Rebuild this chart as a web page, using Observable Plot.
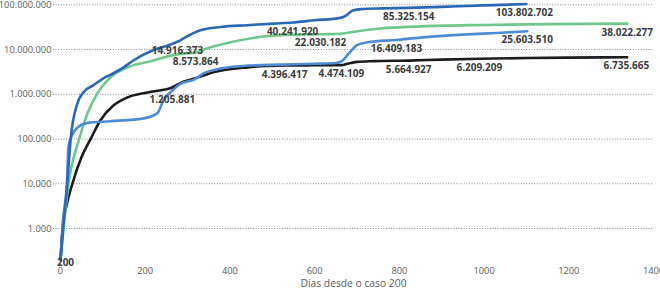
<!DOCTYPE html>
<html><head><meta charset="utf-8">
<script src="https://cdn.jsdelivr.net/npm/d3@7"></script>
<script src="https://cdn.jsdelivr.net/npm/@observablehq/plot@0.6"></script>
<style>
html,body{margin:0;padding:0;background:#fff;}
#chart{width:660px;height:290px;overflow:hidden;}
</style></head><body><div id="chart"></div>
<script>
const xTitle = "Dias desde o caso 200";
const yTicks = [1000, 10000, 100000, 1000000, 10000000, 100000000];
const xTicks = [0, 200, 400, 600, 800, 1000, 1200, 1400];

const seriesNames = ["preto", "verde", "azul claro", "azul escuro"];
const seriesColors = ["#1c1c1c", "#6fc78b", "#4d8cd2", "#2a68b4"];

const darkBlueDays  = [0, 8, 16, 24, 40, 54, 78, 102, 125, 149, 172, 220, 255, 276, 300, 330, 378, 441, 503, 548, 600, 661, 675, 690, 710, 760, 822, 900, 1000, 1100];
const darkBlueCases = [200, 1500, 10000, 100000, 630000, 1100000, 1600000, 2300000, 2950000, 4000000, 5700000, 9800000, 12500000, 14916373, 20000000, 27000000, 32000000, 35000000, 38000000, 40241920, 45000000, 51000000, 58000000, 75000000, 80000000, 83000000, 85325154, 90000000, 97000000, 103802702];

const greenDays  = [0, 8, 19, 44, 64, 87, 118, 158, 220, 264, 290, 319, 345, 401, 479, 543, 614, 661, 700, 755, 850, 1000, 1150, 1338];
const greenCases = [200, 1200, 10000, 100000, 380000, 1050000, 2400000, 4000000, 5700000, 7400000, 8100000, 8573864, 10500000, 14500000, 19500000, 21500000, 22030182, 22600000, 25500000, 29500000, 33000000, 35500000, 37000000, 38022277];

const lightBlueDays  = [0, 6, 15, 19, 27, 40, 64, 118, 196, 229, 243, 264, 283, 314, 340, 380, 430, 520, 600, 650, 665, 680, 700, 725, 793, 850, 950, 1030, 1102];
const lightBlueCases = [200, 1500, 10000, 70000, 120000, 180000, 230000, 250000, 290000, 380000, 730000, 1205881, 1700000, 2100000, 3000000, 3800000, 4300000, 4600000, 4800000, 5000000, 5600000, 8000000, 12500000, 14500000, 16409183, 18500000, 21500000, 23500000, 25603510];

const blackDays  = [0, 5, 15, 28, 50, 71, 94, 125, 158, 205, 262, 290, 320, 361, 441, 529, 600, 663, 680, 700, 740, 822, 900, 989, 1100, 1200, 1338];
const blackCases = [200, 1000, 3500, 10000, 40000, 100000, 260000, 560000, 850000, 1100000, 1400000, 1900000, 2300000, 3100000, 4000000, 4396417, 4440000, 4474109, 4900000, 5300000, 5500000, 5664927, 5950000, 6209209, 6450000, 6600000, 6735665];

const labelSeries = ["azul escuro","azul escuro","azul escuro","azul escuro","verde","verde","verde","azul claro","azul claro","azul claro","preto","preto","preto","preto","preto"];
const labelDays   = [276, 548, 822, 1095, 319, 614, 1338, 264, 793, 1102, 529, 663, 822, 989, 1336];
const labelCases  = [14916373, 40241920, 85325154, 103802702, 8573864, 22030182, 38022277, 1205881, 16409183, 25603510, 4396417, 4474109, 5664927, 6209209, 6735665];

const originDay = [0];
const originCases = [200];

const fmt = d3.formatLocale({decimal: ",", thousands: ".", grouping: [3], currency: ["", ""]}).format(",d");

function rows(name, days, cases) { return days.map((d, i) => ({serie: name, dia: d, casos: cases[i]})); }
const lines = [
  ...rows("preto", blackDays, blackCases),
  ...rows("verde", greenDays, greenCases),
  ...rows("azul claro", lightBlueDays, lightBlueCases),
  ...rows("azul escuro", darkBlueDays, darkBlueCases)
];
const labels = labelDays.map((d, i) => ({serie: labelSeries[i], dia: d, casos: labelCases[i]}));
const origin = originDay.map((d, i) => ({dia: d, casos: originCases[i]}));

const chart = Plot.plot({
  width: 660, height: 290,
  marginLeft: 53, marginRight: 7, marginTop: 4.3, marginBottom: 30.7,
  style: {fontFamily: "'Open Sans', sans-serif", fontSize: "9.3px", color: "#5a5a5a", background: "#fff"},
  x: {domain: [-16.5, 1400]},
  y: {type: "log", domain: [200, 100000000]},
  color: {domain: seriesNames, range: seriesColors},
  marks: [
    Plot.ruleY(yTicks, {stroke: "#7b8aa3", strokeDasharray: "1,1.6", strokeWidth: 1}),
    Plot.axisY(yTicks, {tickSize: 0, tickPadding: 2, tickFormat: fmt, label: null, fill: "#5a5a5a"}),
    Plot.axisX(xTicks, {tickSize: 0, tickPadding: 8, tickFormat: d => String(d), label: null, fill: "#5a5a5a"}),
    Plot.text([xTitle], {frameAnchor: "bottom", dy: 27.5, text: d => d, fill: "#5a5a5a", fontSize: 10.3}),
    Plot.line(lines, {x: "dia", y: "casos", z: "serie", stroke: "serie", strokeWidth: 2.6, curve: "monotone-x"}),
    Plot.text(labels, {x: "dia", y: "casos", text: d => fmt(d.casos), dy: 9, fontWeight: "bold", fill: "#3c3c3c", fontSize: 10}),
    Plot.text(origin, {x: "dia", y: "casos", text: d => fmt(d.casos), dx: 5, dy: 3, fontWeight: "bold", fill: "#3c3c3c", fontSize: 10})
  ]
});
document.getElementById("chart").appendChild(chart);
</script></body></html>
